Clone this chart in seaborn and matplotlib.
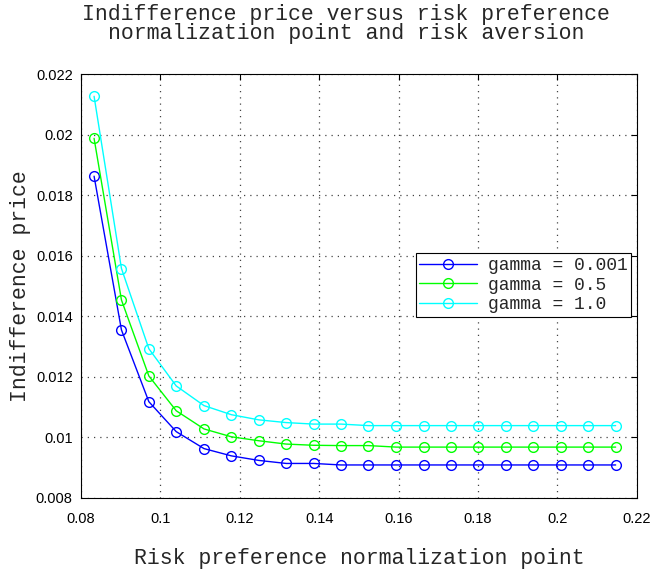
import numpy as np
import pandas as pd
import matplotlib
matplotlib.use('Agg')
import matplotlib.pyplot as plt
import seaborn as sns

# risk preference normalization points
norm_point = [0.0833, 0.0902, 0.0971, 0.1040, 0.1110, 0.1179, 0.1248, 0.1317, 0.1386, 0.1455,
              0.1524, 0.1594, 0.1663, 0.1732, 0.1801, 0.1870, 0.1939, 0.2009, 0.2078, 0.2147]

# indifference prices per risk aversion
price_g0001 = [0.01863, 0.01355, 0.01118, 0.01019, 0.00963, 0.00939, 0.00924, 0.00914, 0.00914, 0.00909,
               0.00909, 0.00909, 0.00909, 0.00909, 0.00909, 0.00909, 0.00909, 0.00909, 0.00909, 0.00909]
price_g05 = [0.01988, 0.01454, 0.01203, 0.01088, 0.01028, 0.01002, 0.00989, 0.00978, 0.00974, 0.00973,
             0.00973, 0.00968, 0.00968, 0.00968, 0.00968, 0.00968, 0.00968, 0.00968, 0.00968, 0.00968]
price_g1 = [0.02127, 0.01558, 0.01293, 0.01170, 0.01105, 0.01075, 0.01058, 0.01049, 0.01044, 0.01044,
            0.01039, 0.01039, 0.01039, 0.01039, 0.01039, 0.01039, 0.01039, 0.01039, 0.01039, 0.01039]

labels = ['gamma = 0.001', 'gamma = 0.5', 'gamma = 1.0']
colors = ['#0000ff', '#00ff00', '#00ffff']

sns.set_style('white')
plt.rcParams['font.family'] = ['Liberation Sans', 'DejaVu Sans']
mono = ['Liberation Mono', 'DejaVu Sans Mono']

fig = plt.figure(figsize=(6.53, 5.75), dpi=100)
ax = fig.add_axes([0.124, 0.134, 0.851, 0.737])

for y, lab, c in zip([price_g0001, price_g05, price_g1], labels, colors):
    sns.lineplot(x=norm_point, y=y, ax=ax, color=c, marker='o', markersize=7,
                 markerfacecolor='none', markeredgecolor=c, markeredgewidth=1,
                 linewidth=1, label=lab)

ax.set_xlim(0.08, 0.22)
ax.set_ylim(0.008, 0.022)
ax.set_xticks(np.arange(0.08, 0.2201, 0.02))
ax.set_xticklabels(['0.08', '0.1', '0.12', '0.14', '0.16', '0.18', '0.2', '0.22'])
ax.set_yticks(np.arange(0.008, 0.0221, 0.002))
ax.set_yticklabels(['0.008', '0.01', '0.012', '0.014', '0.016', '0.018', '0.02', '0.022'])
ax.tick_params(direction='in', top=True, right=True, length=4, labelsize=10.5, colors='black')
ax.tick_params(axis='x', pad=10)
ax.tick_params(axis='y', pad=6)
ax.grid(True, linestyle=(0, (1, 4)), color='#444444', linewidth=0.9)
for s in ax.spines.values():
    s.set_color('black')
    s.set_linewidth(0.8)

fig.text(346 / 653, 1 - 24 / 575,
         'Indifference price versus risk preference\nnormalization point and risk aversion',
         family=mono, fontsize=15.5, ha='center', va='center', linespacing=0.85)
ax.set_xlabel('Risk preference normalization point', family=mono, fontsize=15.5, labelpad=16)
ax.set_ylabel('Indifference price', family=mono, fontsize=15.5, labelpad=3.5)

leg = ax.legend(loc='upper right', bbox_to_anchor=(0.99, 0.577), prop={'family': mono, 'size': 13},
                frameon=True, fancybox=False, edgecolor='black', framealpha=1,
                borderpad=0.2, labelspacing=0.15, handlelength=3.2, handletextpad=0.6,
                borderaxespad=0)
leg.get_frame().set_linewidth(0.8)

fig.savefig('out.png', dpi=100)
